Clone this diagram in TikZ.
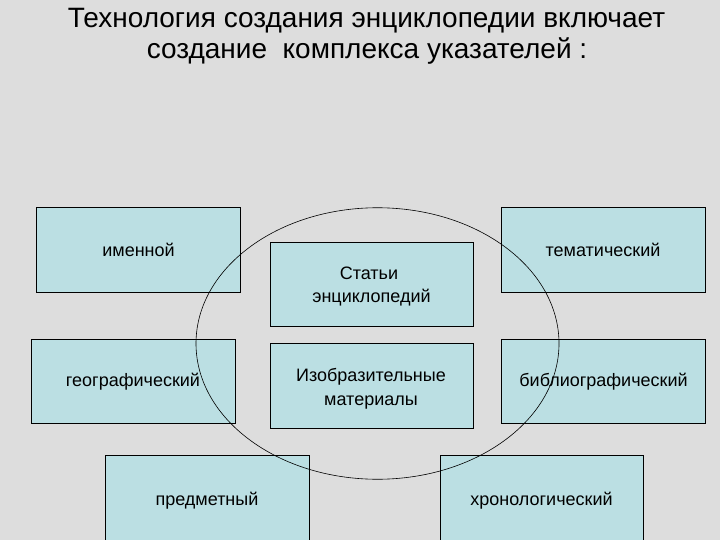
\documentclass[tikz,border=0pt]{standalone}
\usepackage{fontspec}
\setmainfont{Liberation Sans}
\usetikzlibrary{shapes.geometric}
\definecolor{bggray}{RGB}{221,221,221}
\definecolor{boxfill}{RGB}{187,223,227}
\tikzset{
  ibox/.style={draw=black, line width=0.9bp, fill=boxfill, anchor=north west, inner sep=0pt, minimum width=#1},
  lbl/.style={anchor=base, inner sep=0pt, font=\fontsize{18bp}{22bp}\selectfont, align=center},
  ttl/.style={anchor=base, inner sep=0pt, font=\fontsize{28bp}{31bp}\selectfont},
}
\begin{document}
\begin{tikzpicture}[x=1bp,y=-1bp]
\fill[bggray] (0,0) rectangle (720,540);
\useasboundingbox (0,0) rectangle (720,540);
\clip (0,0) rectangle (720,540);
% title
\node[ttl] (t1) at (366.5,27.5) {Технология создания энциклопедии включает};
\node[ttl] (t2) at (367,58.5) {создание\ \ комплекса указателей :};
% boxes
\node[ibox=204bp, minimum height=85bp] (imen) at (36,207) {};
\node[ibox=204bp, minimum height=84bp] (geo) at (31,339) {};
\node[ibox=203bp, minimum height=84bp] (stat) at (270,242) {};
\node[ibox=203bp, minimum height=85bp] (izo) at (270,343) {};
\node[ibox=204bp, minimum height=85bp] (tem) at (501,207) {};
\node[ibox=204bp, minimum height=84bp] (bib) at (501,339) {};
\node[ibox=204bp, minimum height=100bp] (pred) at (105,455) {};
\node[ibox=203bp, minimum height=100bp] (chron) at (440,455) {};
% labels
\node[lbl] (limen) at (138.5,257) {именной};
\node[lbl] (lgeo) at (133,386.5) {географический};
\node[lbl] (lstat1) at (369,280) {Статьи};
\node[lbl] (lstat2) at (371.5,302) {энциклопедий};
\node[lbl] (lizo1) at (371,381.5) {Изобразительные};
\node[lbl] (lizo2) at (371,405) {материалы};
\node[lbl] (ltem) at (603,257) {тематический};
\node[lbl] (lbib) at (603.5,386.5) {библиографический};
\node[lbl] (lpred) at (207,505) {предметный};
\node[lbl] (lchron) at (541.5,505) {хронологический};
% ring
\node[draw=black, line width=0.6bp, ellipse, inner sep=0pt, minimum width=363bp, minimum height=271.5bp] (ring) at (377.5,343.5) {};
\end{tikzpicture}
\end{document}
